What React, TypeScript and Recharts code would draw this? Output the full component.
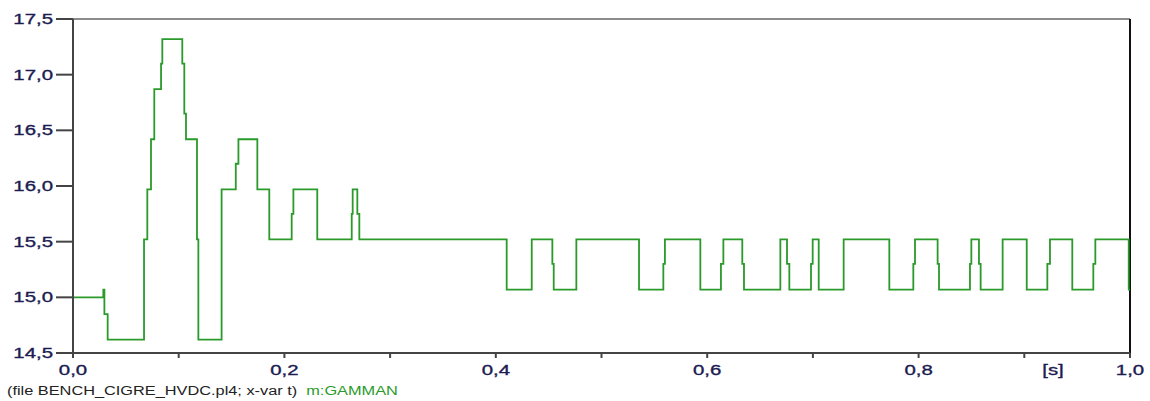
import { Line, LineChart, ReferenceLine, XAxis, YAxis } from 'recharts';

if (typeof document !== 'undefined') document.body.style.margin = '0';

// segment start times [s] and the value held from that time on
const times = [
  0, 0.0287, 0.0297, 0.0328, 0.0672, 0.0703, 0.0738, 0.0769, 0.0833, 0.0845,
  0.1034, 0.1053, 0.1069, 0.1173, 0.1186, 0.1406, 0.154, 0.1565, 0.1744, 0.1857,
  0.2069, 0.2085, 0.2311, 0.2637, 0.2646, 0.269, 0.2709, 0.4103, 0.434, 0.4535,
  0.4548, 0.4762, 0.5355, 0.5585, 0.56, 0.5935, 0.613, 0.6153, 0.6332, 0.6348,
  0.6692, 0.6755, 0.6777, 0.6982, 0.6998, 0.7055, 0.7291, 0.7723, 0.795, 0.7966,
  0.818, 0.8193, 0.8486, 0.8499, 0.8571, 0.8587, 0.8795, 0.9023, 0.9218, 0.9243,
  0.9454, 0.9653, 0.9672, 0.9988, 1.0,
];
const gamman = [
  15.0, 15.07, 14.85, 14.62, 15.52, 15.97, 16.42, 16.87, 17.1, 17.32,
  17.1, 16.65, 16.42, 15.52, 14.62, 15.97, 16.2, 16.42, 15.97, 15.52,
  15.75, 15.97, 15.52, 15.75, 15.97, 15.75, 15.52, 15.07, 15.52, 15.3,
  15.07, 15.52, 15.07, 15.3, 15.52, 15.07, 15.3, 15.52, 15.3, 15.07,
  15.52, 15.3, 15.07, 15.3, 15.52, 15.07, 15.52, 15.07, 15.3, 15.52,
  15.3, 15.07, 15.3, 15.52, 15.3, 15.07, 15.52, 15.07, 15.3, 15.52,
  15.07, 15.3, 15.52, 15.07, 15.07,
];

const xTicks = [0, 0.1, 0.2, 0.3, 0.4, 0.5, 0.6, 0.7, 0.8, 0.9, 1.0];
const xLabels = ['0,0', '', '0,2', '', '0,4', '', '0,6', '', '0,8', '', '1,0'];
const yTicks = [14.5, 15, 15.5, 16, 16.5, 17, 17.5];
const yLabels = ['14,5', '15,0', '15,5', '16,0', '16,5', '17,0', '17,5'];

const data = times.map((t, i) => ({ t, v: gamman[i] }));

const TEXT = '#1c1c52';
const GREEN = '#2a9a2a';
const FONT = '"Liberation Sans", Arial, sans-serif';
const SX = 1.36;

function YTick(props: any) {
  const { x, y, payload } = props;
  const i = yTicks.indexOf(payload.value);
  return (
    <text
      transform={`translate(${x},${y}) scale(${SX},1)`}
      textAnchor="end"
      dominantBaseline="central"
      fontFamily={FONT}
      fontSize={15}
      fill={TEXT}
      stroke={TEXT}
      strokeWidth={0.35}
    >
      {yLabels[i]}
    </text>
  );
}

function XTick(props: any) {
  const { x, y, payload } = props;
  const i = xTicks.findIndex((v) => Math.abs(v - payload.value) < 1e-6);
  const label = xLabels[i] ?? '';
  if (!label) return null;
  return (
    <text
      transform={`translate(${x},${y + 10}) scale(${SX},1)`}
      textAnchor="middle"
      dominantBaseline="central"
      fontFamily={FONT}
      fontSize={15}
      fill={TEXT}
      stroke={TEXT}
      strokeWidth={0.35}
    >
      {label}
    </text>
  );
}

export default function App() {
  return (
    <div style={{ position: 'relative', width: 1150, height: 401, background: '#fff' }}>
      <LineChart width={1150} height={401} data={data} margin={{ top: 19, right: 20, bottom: 18, left: 0 }}>
        <XAxis
          dataKey="t"
          type="number"
          domain={[0, 1]}
          ticks={xTicks}
          tick={<XTick />}
          tickSize={5}
          axisLine={{ stroke: '#444', strokeWidth: 2 }}
          tickLine={{ stroke: '#444', strokeWidth: 2 }}
          height={30}
          allowDataOverflow
        />
        <YAxis
          type="number"
          domain={[14.5, 17.5]}
          ticks={yTicks}
          tick={<YTick />}
          tickSize={17}
          tickMargin={3}
          axisLine={{ stroke: '#444', strokeWidth: 2 }}
          tickLine={{ stroke: '#444', strokeWidth: 2 }}
          width={73}
          allowDataOverflow
        />
        <ReferenceLine y={17.5} stroke="#666" strokeWidth={1.5} />
        <ReferenceLine x={1} stroke="#111" strokeWidth={2} />
        <Line
          type="stepAfter"
          dataKey="v"
          stroke={GREEN}
          strokeWidth={1.8}
          dot={false}
          isAnimationActive={false}
        />
      </LineChart>
      <div
        style={{
          position: 'absolute', left: 1053, top: 361, fontFamily: FONT, fontSize: 15,
          color: TEXT, transform: `translateX(-50%) scaleX(${SX})`, lineHeight: '17px',
          WebkitTextStroke: `0.35px ${TEXT}`,
        }}
      >
        [s]
      </div>
      <div
        style={{
          position: 'absolute', left: 7, top: 384, fontFamily: FONT, fontSize: 12,
          color: '#222', transform: `scaleX(${SX})`, transformOrigin: 'left top',
          whiteSpace: 'nowrap', lineHeight: '14px',
        }}
      >
        (file BENCH_CIGRE_HVDC.pl4; x-var t)&nbsp;&nbsp;<span style={{ color: GREEN }}>m:GAMMAN</span>
      </div>
    </div>
  );
}
